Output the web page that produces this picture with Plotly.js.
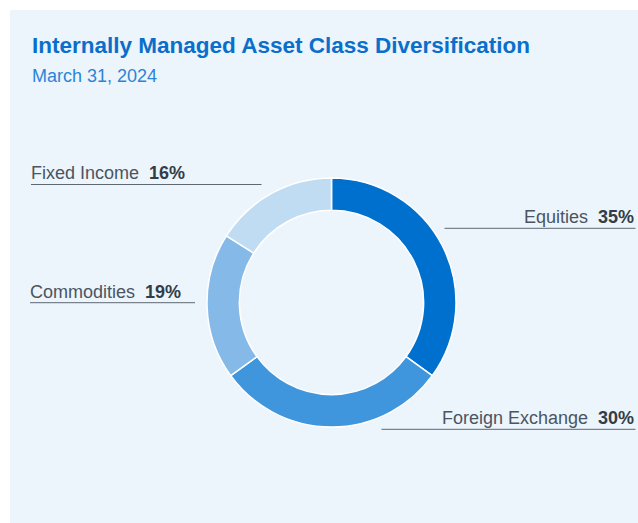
<!DOCTYPE html>
<html>
<head>
<meta charset="utf-8">
<script src="https://cdn.plot.ly/plotly-3.0.1.min.js"></script>
<style>html,body{margin:0;padding:0;background:#fff;}#chart{width:638px;height:523px;}</style>
</head>
<body>
<div id="chart"></div>
<script>
var categories = ["Equities", "Foreign Exchange", "Commodities", "Fixed Income"];
var values = [35, 30, 19, 16];
var colors = ["#0070CE", "#4096DC", "#85B9E8", "#C0DCF2"];
var titleText = "Internally Managed Asset Class Diversification";
var subtitleText = "March 31, 2024";

var W = 638, H = 523;
function px(x){ return x / W; }
function py(y){ return 1 - y / H; }

var cx = 331.5, cy = 302.5, r = 124.5;

var trace = {
  type: "pie",
  labels: categories,
  values: values,
  sort: false,
  direction: "clockwise",
  rotation: 0,
  hole: 0.74,
  textinfo: "none",
  hoverinfo: "label+percent",
  marker: { colors: colors, line: { color: "#FFFFFF", width: 1.5 } },
  domain: { x: [px(cx - r), px(cx + r)], y: [py(cy + r), py(cy - r)] },
  showlegend: false
};

var labelColor = "#4A5561";
var pctColor = "#333D48";
var fontFam = "Liberation Sans, Arial, Helvetica, sans-serif";

var labelDefs = [
  { i: 3, x: 29, base: 180, anchor: "left", lx0: 31, lx1: 261.5, ly: 184.5 },
  { i: 2, x: 28, base: 298.2, anchor: "left", lx0: 30, lx1: 195, ly: 302.7 },
  { i: 0, x: 636, base: 223.5, anchor: "right", lx0: 444.5, lx1: 635.5, ly: 228.3 },
  { i: 1, x: 636, base: 424.8, anchor: "right", lx0: 381.5, lx1: 635.5, ly: 429.3 }
];

var annotations = [
  { xref: "paper", yref: "paper", x: px(29.5), y: py(45), xanchor: "left", yanchor: "middle",
    text: "<b>" + titleText + "</b>", showarrow: false,
    font: { family: fontFam, size: 22.5, color: "#0A6FCB" } },
  { xref: "paper", yref: "paper", x: px(29.5), y: py(75.5), xanchor: "left", yanchor: "middle",
    text: subtitleText, showarrow: false,
    font: { family: fontFam, size: 18, color: "#2C84D6" } }
];
var shapes = [
  { type: "rect", xref: "paper", yref: "paper", x0: px(10), x1: 1, y0: 0, y1: py(10),
    fillcolor: "#ECF4FC", line: { width: 0 }, layer: "below" }
];

labelDefs.forEach(function(d){
  annotations.push({
    xref: "paper", yref: "paper", x: px(d.x), y: py(d.base - 6.5),
    xanchor: d.anchor, yanchor: "middle", showarrow: false,
    text: categories[d.i] + "  <span style=\"color:" + pctColor + "\"><b>" + values[d.i] + "%</b></span>",
    font: { family: fontFam, size: 18, color: labelColor }
  });
  shapes.push({
    type: "line", xref: "paper", yref: "paper",
    x0: px(d.lx0), x1: px(d.lx1), y0: py(d.ly), y1: py(d.ly),
    line: { color: "#5E6873", width: 1 }
  });
});

var layout = {
  width: W, height: H,
  margin: { l: 0, r: 0, t: 0, b: 0 },
  paper_bgcolor: "#FFFFFF",
  annotations: annotations,
  shapes: shapes
};

Plotly.newPlot("chart", [trace], layout, { displayModeBar: false, staticPlot: true });
</script>
</body>
</html>
